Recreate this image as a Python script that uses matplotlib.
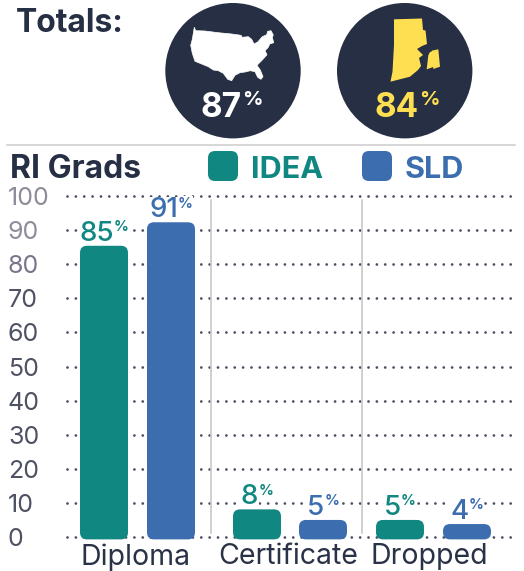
import matplotlib
matplotlib.use('Agg')
import matplotlib.pyplot as plt
from matplotlib.patches import Circle, FancyBboxPatch, Polygon

plt.rcParams['font.family'] = ['Inter', 'DejaVu Sans']
plt.rcParams['lines.dash_capstyle'] = 'round'

# chart values
categories = ['Diploma', 'Certificate', 'Dropped']
idea_values = [85.4, 8.1, 5]
sld_values = [92.3, 5, 3.8]     # the 91% bar is drawn a little taller in the picture
idea_labels = [85, 8, 5]
sld_labels = [91, 5, 4]
total_us = 87
total_ri = 84
y_ticks = list(range(0, 101, 10))
y_tick_colors = ['#4f5263', '#4f5263', '#4f5263', '#4f5263', '#4f5263', '#4f5263',
                 '#4f5263', '#4f5263', '#77768a', '#8e8c9a', '#8e8c9a']

# layout, in pixels of the 524x571 picture
idea_x = [80, 233, 376]
sld_x = [147, 299, 443]
bar_w = 48
label_x = [135.5, 288, 429.5]
dividers = [211, 361.5]

DARK = '#262f43'
TEAL = '#108780'
BLUE = '#3c6eaf'
YELLOW = '#ffdf52'
W, H = 524, 571

# icon outlines, traced in pixels
US_SHAPE = [(194.3, 27.3), (195.7, 30.7), (205, 31), (218.3, 32.7), (231.7, 34), (241, 35.3),
            (242.3, 37.3), (248.3, 36.7), (251.7, 39.3), (254, 44), (257.7, 42), (262.3, 36.7),
            (266.7, 34.7), (267.7, 31.3), (271, 30.7), (273.3, 35), (272.3, 37.3), (273.7, 42.7),
            (269.7, 44), (268.3, 47.3), (265, 50.7), (267, 54.7), (262.3, 60), (257, 65.3),
            (260.3, 70), (263, 76.7), (261, 79.3), (257.7, 77.3), (255, 71.7), (250.3, 70.7),
            (245, 72), (240, 72.7), (235, 75.3), (231.7, 80.7), (227.7, 79.3), (223.3, 73.3),
            (218.3, 70.7), (213.3, 70), (208.3, 66.7), (201.7, 64), (195, 61.3), (192.3, 53.3),
            (190.7, 45.3), (192.3, 39.3)]
RI_MAIN = [(394, 19.3), (422, 18.5), (423, 30), (425.5, 30.5), (427, 44), (422, 46), (417, 49),
           (423, 55), (419, 58), (421, 66), (418, 70), (410, 76.7), (390.5, 81.7), (392.5, 71.7),
           (394, 45)]
RI_ISLAND = [(431.7, 50.7), (438.3, 49.3), (440, 66.7), (433.3, 69)]
RI_MIDDLE = [(430, 52), (432.7, 51.3), (433.3, 67), (426.7, 69.3), (428.3, 55.3)]


def px_text(ax, x, y, s, color, size, weight='normal', ha='left', va='baseline'):
    return ax.text(x, y, s, color=color, fontsize=size, fontweight=weight, ha=ha, va=va)


def pct_label(ax, x, value, bar_top, color):
    # number with a small raised % sign, centred over the bar as one unit
    renderer = ax.figure.canvas.get_renderer()
    num = ax.annotate(str(value), (x, bar_top), xytext=(0, 3.6), textcoords='offset points',
                      color=color, fontsize=20, fontweight='medium', ha='right', va='baseline', zorder=4,
                      bbox=dict(facecolor='white', edgecolor='none', pad=0.3))
    pct = ax.annotate('%', (x, bar_top), xytext=(0, 10.6), textcoords='offset points',
                      color=color, fontsize=10.5, fontweight='bold', ha='left', va='baseline', zorder=4,
                      bbox=dict(facecolor='white', edgecolor='none', pad=0.3))
    w1 = num.get_window_extent(renderer).width
    w2 = pct.get_window_extent(renderer).width
    shift = (w1 - w2) / 2 * 72 / ax.figure.dpi
    num.xyann = (shift, 3.6)
    pct.xyann = (shift, 10.6)


fig = plt.figure(figsize=(W / 100, H / 100), dpi=100, facecolor='white')

ax = fig.add_axes([67 / W, (H - 537) / H, 448 / W, 341 / H])
ax.set_xlim(67, 515)
ax.set_ylim(0, 100)
ax.patch.set_alpha(0)
for side in ax.spines.values():
    side.set_visible(False)

ax.set_yticks(y_ticks)
ax.set_xticks(label_x)
ax.set_xticklabels(categories, fontsize=20.5, color='#2a3247')
ax.tick_params(axis='both', length=0)
ax.tick_params(axis='x', pad=4.5)
ax.tick_params(axis='y', pad=42.5, labelsize=18)
for lab, col in zip(ax.get_yticklabels(), y_tick_colors):
    lab.set_ha('left')
    lab.set_color(col)

ax.grid(axis='y', color='#4b4e60', linewidth=2.0, linestyle=(0, (0.01, 3.0)), zorder=1)
ax.set_axisbelow(True)
for line in ax.get_ygridlines():
    line.set_clip_on(False)

# y data units per pixel keeps the corners round on the pixel-scaled x axis
aspect = 100 / 341
bottom = -0.7
for xs, values, labels, color in [(idea_x, idea_values, idea_labels, TEAL),
                                  (sld_x, sld_values, sld_labels, BLUE)]:
    for x, v, lab in zip(xs, values, labels):
        bar = FancyBboxPatch((x, bottom), bar_w, v - bottom,
                             boxstyle='round,pad=0,rounding_size=7',
                             mutation_aspect=aspect, facecolor=color, edgecolor='none',
                             clip_on=False, zorder=5)
        ax.add_patch(bar)
        pct_label(ax, x + bar_w / 2, lab, v, color)

# everything around the chart is placed in picture pixels
top = fig.add_axes([0, 0, 1, 1], zorder=5)
top.set_xlim(0, W)
top.set_ylim(H, 0)
top.axis('off')

px_text(top, 16, 32, 'Totals:', DARK, 23, 'bold')

top.add_patch(Circle((233, 70.7), 67.7, facecolor=DARK, edgecolor='none'))
top.add_patch(Circle((404.7, 70.7), 67.7, facecolor=DARK, edgecolor='none'))
top.add_patch(Polygon(US_SHAPE, closed=True, facecolor='white', edgecolor='white', linewidth=0.5, joinstyle='round'))
top.add_patch(Polygon(RI_MAIN, closed=True, facecolor=YELLOW, edgecolor='none'))
top.add_patch(Polygon(RI_ISLAND, closed=True, facecolor=YELLOW, edgecolor='none'))
top.add_patch(Polygon(RI_MIDDLE, closed=True, facecolor=YELLOW, edgecolor='none'))

px_text(top, 242, 116.7, str(total_us), 'white', 24, 'bold', ha='right')
px_text(top, 242, 105, '%', 'white', 14.5, 'bold')
px_text(top, 419, 116.7, str(total_ri), YELLOW, 24, 'bold', ha='right')
px_text(top, 419, 105, '%', YELLOW, 14.5, 'bold')

top.plot([7, 515], [144.7, 144.7], color='#cccccc', linewidth=1.1)

px_text(top, 10, 178, 'RI Grads', DARK, 23, 'bold')
for x0, name, col in [(208, 'IDEA', TEAL), (362, 'SLD', BLUE)]:
    top.add_patch(FancyBboxPatch((x0, 151), 30, 30, boxstyle='round,pad=0,rounding_size=7',
                                 facecolor=col, edgecolor='none'))
    px_text(top, x0 + 43, 178, name, col, 22, 'bold')

for x in dividers:
    top.plot([x, x], [200, 533], color='#c4c4c4', linewidth=1.1)

fig.savefig('out.png', dpi=100)
